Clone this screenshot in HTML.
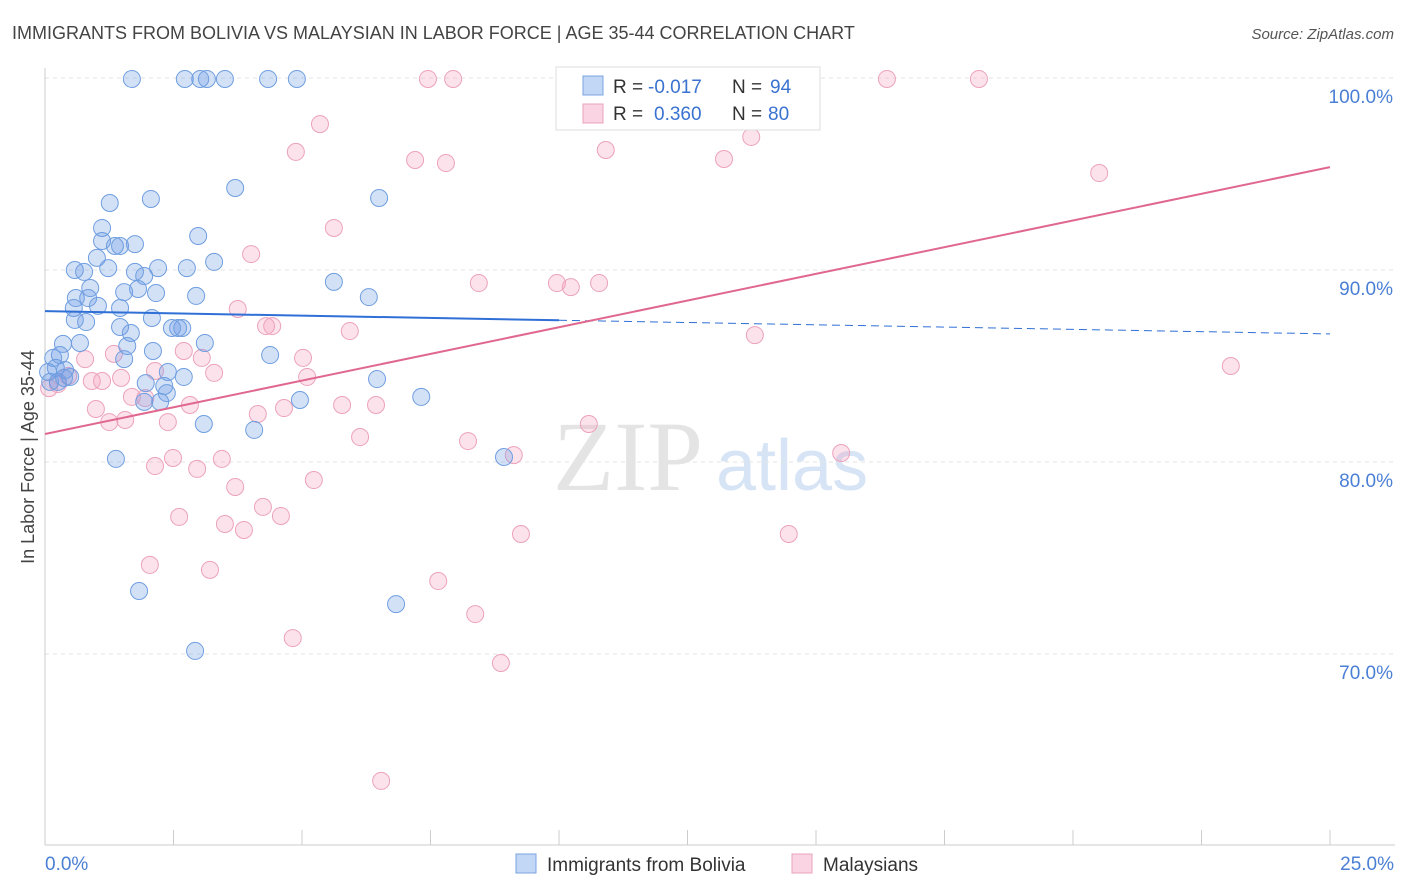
<!DOCTYPE html>
<html><head><meta charset="utf-8">
<style>
body{margin:0;background:#fff;font-family:"Liberation Sans",sans-serif;}
svg{display:block}
</style></head>
<body>
<svg id="chart" width="1406" height="892" xmlns="http://www.w3.org/2000/svg">
<text x="12" y="39" font-size="18" fill="#444" font-family="Liberation Sans, sans-serif">IMMIGRANTS FROM BOLIVIA VS MALAYSIAN IN LABOR FORCE | AGE 35-44 CORRELATION CHART</text>
<text x="1394" y="39" font-size="15" fill="#555" text-anchor="end" font-style="italic">Source: ZipAtlas.com</text>
<g>
<text x="553" y="490" font-size="100" fill="#e4e4e4" font-family="Liberation Serif, serif">ZIP</text>
<text x="716" y="490" font-size="72" fill="#d6e4f5" font-family="Liberation Sans, sans-serif">atlas</text>
</g>
<g id="grid"></g>
<g id="axes"></g>
<g id="points"></g>
<g id="trends"></g>
<text transform="translate(34,457) rotate(-90)" font-size="18" fill="#444" text-anchor="middle">In Labor Force | Age 35-44</text>
<g>
<rect x="556" y="67" width="264" height="63" fill="#fff" stroke="#ddd"/>
<rect x="583" y="76" width="20" height="19" fill="rgba(120,165,235,0.45)" stroke="#7aa4e0"/>
<rect x="583" y="104" width="20" height="19" fill="rgba(245,160,190,0.45)" stroke="#eba3bd"/>
<text font-size="19" fill="#333"><tspan x="613" y="93">R =</tspan><tspan x="648" y="93" fill="#3a72d0">-0.017</tspan><tspan x="732" y="93">N =</tspan><tspan x="770" y="93" fill="#3a72d0">94</tspan></text>
<text font-size="19" fill="#333"><tspan x="613" y="120">R =</tspan><tspan x="654" y="120" fill="#3a72d0">0.360</tspan><tspan x="732" y="120">N =</tspan><tspan x="768" y="120" fill="#3a72d0">80</tspan></text>
</g>
<g>
<rect x="516" y="854" width="20" height="19" fill="rgba(120,165,235,0.45)" stroke="#7aa4e0"/>
<text x="547" y="871" font-size="19" fill="#333">Immigrants from Bolivia</text>
<rect x="792" y="854" width="20" height="19" fill="rgba(245,160,190,0.45)" stroke="#eba3bd"/>
<text x="823" y="871" font-size="19" fill="#333">Malaysians</text>
</g>
</svg>
<script>
const xTicks=[0,2.5,5,7.5,10,12.5,15,17.5,20,22.5,25];
const yTicks=[70,80,90,100];
const yTickLabels=["70.0%","80.0%","90.0%","100.0%"];
const xEndLabels=["0.0%","25.0%"];
const boliviaX=[1.69,2.72,3.02,3.15,3.50,4.34,4.90,1.26,2.06,3.70,6.50,1.11,1.11,1.36,1.46,1.75,2.98,3.29,2.76,0.58,0.76,1.01,1.23,1.75,1.93,2.20,0.88,1.54,1.81,2.16,2.94,5.62,6.30,0.60,0.84,0.56,1.03,1.46,2.08,0.58,0.80,1.46,1.67,2.47,2.59,2.67,0.35,0.68,1.60,3.11,2.10,4.38,1.54,0.29,0.16,0.39,0.49,0.25,0.10,2.39,2.70,1.96,2.32,2.37,1.93,2.24,6.46,4.96,7.32,3.09,4.07,1.38,8.93,1.83,6.83,2.92,0.21,0.37,0.06];
const boliviaY=[99.95,99.95,99.95,99.95,99.95,99.95,99.95,93.49,93.70,94.27,93.75,92.19,91.51,91.25,91.25,91.35,91.77,90.42,90.10,90.00,89.90,90.63,90.10,89.90,89.69,90.10,89.06,88.85,89.01,88.80,88.65,89.38,88.59,88.54,88.54,88.02,88.13,88.02,87.50,87.40,87.29,87.03,86.72,86.98,86.98,86.98,86.15,86.20,86.04,86.20,85.78,85.57,85.36,85.57,85.42,84.79,84.43,84.17,84.17,84.69,84.43,84.11,83.96,83.59,83.13,83.13,84.32,83.23,83.39,81.98,81.67,80.16,80.26,73.28,72.60,70.16,84.90,84.38,84.69];
const malayX=[7.45,7.94,11.50,14.07,16.38,18.17,5.35,4.88,7.20,7.80,10.91,13.21,13.74,20.51,5.62,4.01,8.44,9.96,10.23,10.78,3.75,4.30,4.42,5.93,13.81,23.07,0.78,1.34,2.70,3.05,5.02,3.29,5.10,2.14,1.48,0.91,1.11,0.45,0.25,0.08,0.99,1.25,1.56,1.69,1.95,2.82,2.39,4.14,4.65,5.78,6.44,6.13,8.23,9.12,10.58,15.49,2.14,2.49,2.96,3.44,5.23,3.70,4.24,4.59,2.61,3.50,3.87,9.26,14.47,2.04,3.21,7.65,4.82,8.37,8.87,6.54];
const malayY=[99.95,99.95,99.95,99.95,99.95,99.95,97.60,96.15,95.73,95.57,96.25,95.78,96.93,95.05,92.19,90.83,89.32,89.32,89.11,89.32,87.97,87.08,87.08,86.82,86.61,85.00,85.36,85.63,85.78,85.42,85.42,84.64,84.43,84.74,84.38,84.22,84.22,84.48,84.06,83.85,82.76,82.08,82.19,83.39,83.33,82.97,82.08,82.50,82.81,82.97,82.97,81.30,81.09,80.36,81.98,80.47,79.79,80.21,79.64,80.16,79.06,78.70,77.66,77.19,77.14,76.77,76.46,76.25,76.25,74.64,74.38,73.80,70.83,72.08,69.53,63.39];
const boliviaTrend=[87.86,86.67];
const malayTrend=[81.46,95.36];
const boliviaSolidEnd=10;

const X0=45,X1=1330,YTOP=78,PXPER=19.2;
const sx=v=>X0+(v/25)*(X1-X0);
const sy=v=>YTOP+(100-v)*PXPER;
const NS="http://www.w3.org/2000/svg";
function mk(tag,attrs,parent){const e=document.createElementNS(NS,tag);for(const k in attrs)e.setAttribute(k,attrs[k]);parent.appendChild(e);return e;}
const grid=document.getElementById('grid'),axes=document.getElementById('axes'),pts=document.getElementById('points'),tr=document.getElementById('trends');
yTicks.forEach((t,i)=>{
  const l=mk('line',{x1:X0,x2:1395,y1:sy(t),y2:sy(t),stroke:'#e3e3e3','stroke-dasharray':'4,4'},grid);
  
  
  const tx=mk('text',{x:1393,y:sy(t)+25,'font-size':19,fill:'#4a7fd4','text-anchor':'end'},axes);
  tx.textContent=yTickLabels[i];
  
  
});
const ax=mk('line',{x1:X0,x2:X0,y1:68,y2:845,stroke:'#ccc'},axes);


const bx=mk('line',{x1:X0,x2:1395,y1:845,y2:845,stroke:'#ccc'},axes);


xTicks.forEach(t=>{
  const l=mk('line',{x1:sx(t),x2:sx(t),y1:830,y2:845,stroke:'#ccc'},axes);
  
  
});
const xl0=mk('text',{x:45,y:870,'font-size':19,fill:'#4a7fd4'},axes);xl0.textContent=xEndLabels[0];


const xl1=mk('text',{x:1394,y:870,'font-size':19,fill:'#4a7fd4','text-anchor':'end'},axes);xl1.textContent=xEndLabels[1];


malayX.forEach((x,i)=>{
  const c=mk('circle',{cx:sx(x),cy:sy(malayY[i]),r:8.5,fill:'rgba(245,160,190,0.3)',stroke:'#eca2bd','stroke-width':1},pts);
  
  
});
boliviaX.forEach((x,i)=>{
  const c=mk('circle',{cx:sx(x),cy:sy(boliviaY[i]),r:8.5,fill:'rgba(110,155,230,0.3)',stroke:'#6f9ee0','stroke-width':1},pts);
  
  
});
const by=x=>boliviaTrend[0]+(boliviaTrend[1]-boliviaTrend[0])*x/25;
const b1=mk('line',{x1:sx(0),y1:sy(by(0)),x2:sx(boliviaSolidEnd),y2:sy(by(boliviaSolidEnd)),stroke:'#2f6fd6','stroke-width':2},tr);


const b2=mk('line',{x1:sx(boliviaSolidEnd),y1:sy(by(boliviaSolidEnd)),x2:sx(25),y2:sy(by(25)),stroke:'#2f6fd6','stroke-width':1,'stroke-dasharray':'8,5'},tr);


const m1=mk('line',{x1:sx(0),y1:sy(malayTrend[0]),x2:sx(25),y2:sy(malayTrend[1]),stroke:'#e0688f','stroke-width':2},tr);


</script>
</body></html>
